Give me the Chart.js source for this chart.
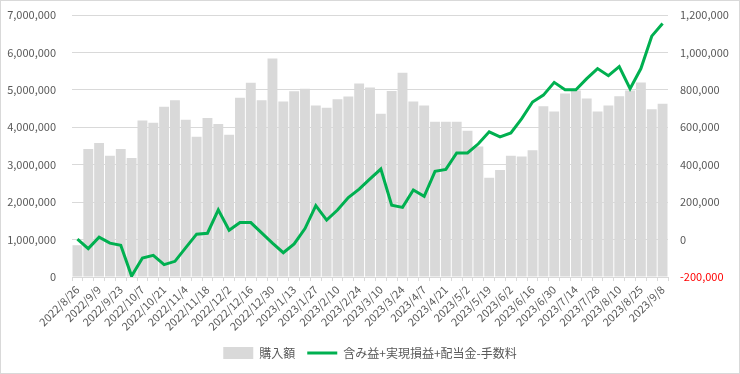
<!DOCTYPE html>
<html>
  <head>
    <meta charset="utf-8">
    <title>購入額と損益</title>
    <script src="https://cdn.jsdelivr.net/npm/chart.js"></script>
    <style>
    body { margin: 0; background: #fff; }
    #box {
      width: 740px;
      height: 374px;
      box-sizing: border-box;
      border: 1px solid #d9d9d9;
    }
  </style>
  </head>
  <body>
    <div id="box"><canvas id="chart" width="738" height="372"></canvas></div>
    <script>
    // weekly dates (every other one is shown on the axis)
    const dates = [
      "2022/8/26", "2022/9/2", "2022/9/9", "2022/9/16", "2022/9/23", "2022/9/30",
      "2022/10/7", "2022/10/14", "2022/10/21", "2022/10/28", "2022/11/4", "2022/11/11",
      "2022/11/18", "2022/11/25", "2022/12/2", "2022/12/9", "2022/12/16", "2022/12/23",
      "2022/12/30", "2023/1/6", "2023/1/13", "2023/1/20", "2023/1/27", "2023/2/3",
      "2023/2/10", "2023/2/17", "2023/2/24", "2023/3/3", "2023/3/10", "2023/3/17",
      "2023/3/24", "2023/3/31", "2023/4/7", "2023/4/14", "2023/4/21", "2023/4/28",
      "2023/5/2", "2023/5/12", "2023/5/19", "2023/5/26", "2023/6/2", "2023/6/9",
      "2023/6/16", "2023/6/23", "2023/6/30", "2023/7/7", "2023/7/14", "2023/7/21",
      "2023/7/28", "2023/8/4", "2023/8/10", "2023/8/18", "2023/8/25", "2023/9/1",
      "2023/9/8"
    ];

    // 購入額 (left axis)
    const purchase = [
      850000, 3420000, 3580000, 3240000, 3420000, 3180000, 4180000, 4120000, 4550000, 4720000,
      4200000, 3750000, 4250000, 4090000, 3800000, 4790000, 5190000, 4720000, 5840000, 4690000,
      4960000, 5030000, 4580000, 4520000, 4750000, 4820000, 5170000, 5060000, 4360000, 4970000,
      5460000, 4690000, 4580000, 4150000, 4150000, 4150000, 3910000, 3490000, 2650000, 2860000,
      3240000, 3220000, 3390000, 4560000, 4420000, 4900000, 4980000, 4770000, 4420000, 4580000,
      4830000, 4980000, 5200000, 4480000, 4630000
    ];

    // 含み益+実現損益+配当金-手数料 (right axis)
    const profit = [
      3000, -48000, 13000, -19000, -30000, -195000, -98000, -84000, -134000, -116000,
      -43000, 29000, 34000, 159000, 50000, 91000, 91000, 36000, -19000, -70000,
      -23000, 59000, 181000, 104000, 158000, 225000, 270000, 324000, 377000, 184000,
      172000, 265000, 231000, 365000, 375000, 463000, 463000, 512000, 576000, 549000,
      570000, 646000, 735000, 772000, 840000, 801000, 801000, 860000, 914000, 876000,
      924000, 806000, 914000, 1087000, 1155000
    ];

    const fmt = (v) => v.toLocaleString("en-US");
    const family = "'Noto Sans CJK JP', 'Noto Sans', sans-serif";
    const tickFont = { family: family, size: 11 };

    // fixed axis widths so the plot area lines up with the original
    const fixY = (w) => (s) => { s.width = w; s.paddingTop = 0; s.paddingBottom = 0; };

    new Chart(document.getElementById("chart"), {
      data: {
        labels: dates,
        datasets: [
          {
            type: "line",
            label: "含み益+実現損益+配当金-手数料",
            data: profit,
            yAxisID: "y1",
            borderColor: "#00b050",
            backgroundColor: "#00b050",
            borderWidth: 3,
            pointRadius: 0,
            pointStyle: "line",
            tension: 0,
            order: 1
          },
          {
            type: "bar",
            label: "購入額",
            data: purchase,
            yAxisID: "y",
            backgroundColor: "#d9d9d9",
            borderWidth: 0,
            pointStyle: "rect",
            categoryPercentage: 1,
            barPercentage: 0.91,
            order: 2
          }
        ]
      },
      options: {
        responsive: false,
        animation: false,
        layout: { autoPadding: false, padding: { left: 0, right: 0, top: 14, bottom: 4 } },
        plugins: {
          tooltip: { enabled: false },
          legend: {
            position: "bottom",
            reverse: true,
            labels: {
              usePointStyle: true,
              pointStyleWidth: 30,
              boxHeight: 12,
              color: "#595959",
              font: { family: family, size: 12 },
              padding: 12
            }
          }
        },
        scales: {
          x: {
            offset: true,
            afterFit: (s) => { s.paddingLeft = 0; s.paddingRight = 0; },
            grid: {
              display: true,
              drawOnChartArea: false,
              offset: true,
              color: "#d9d9d9",
              tickLength: 4
            },
            border: { color: "#d9d9d9" },
            ticks: {
              autoSkip: false,
              maxRotation: 45,
              minRotation: 45,
              color: "#595959",
              font: tickFont,
              padding: 2,
              callback: function (val, i) {
                return i % 2 === 0 ? this.getLabelForValue(val) : "";
              }
            }
          },
          y: {
            position: "left",
            min: 0,
            max: 7000000,
            afterFit: fixY(71),
            grid: { color: "#d9d9d9", drawTicks: false },
            border: { display: false },
            ticks: {
              stepSize: 1000000,
              color: "#595959",
              font: tickFont,
              padding: 16,
              callback: (v) => fmt(v)
            }
          },
          y1: {
            position: "right",
            min: -200000,
            max: 1200000,
            afterFit: fixY(71),
            grid: { display: false, drawTicks: false },
            border: { display: false },
            ticks: {
              stepSize: 200000,
              font: tickFont,
              padding: 12,
              color: (c) => (c.tick && c.tick.value < 0 ? "#ff0000" : "#595959"),
              callback: (v) => fmt(v)
            }
          }
        }
      }
    });
  </script>
  </body>
</html>
